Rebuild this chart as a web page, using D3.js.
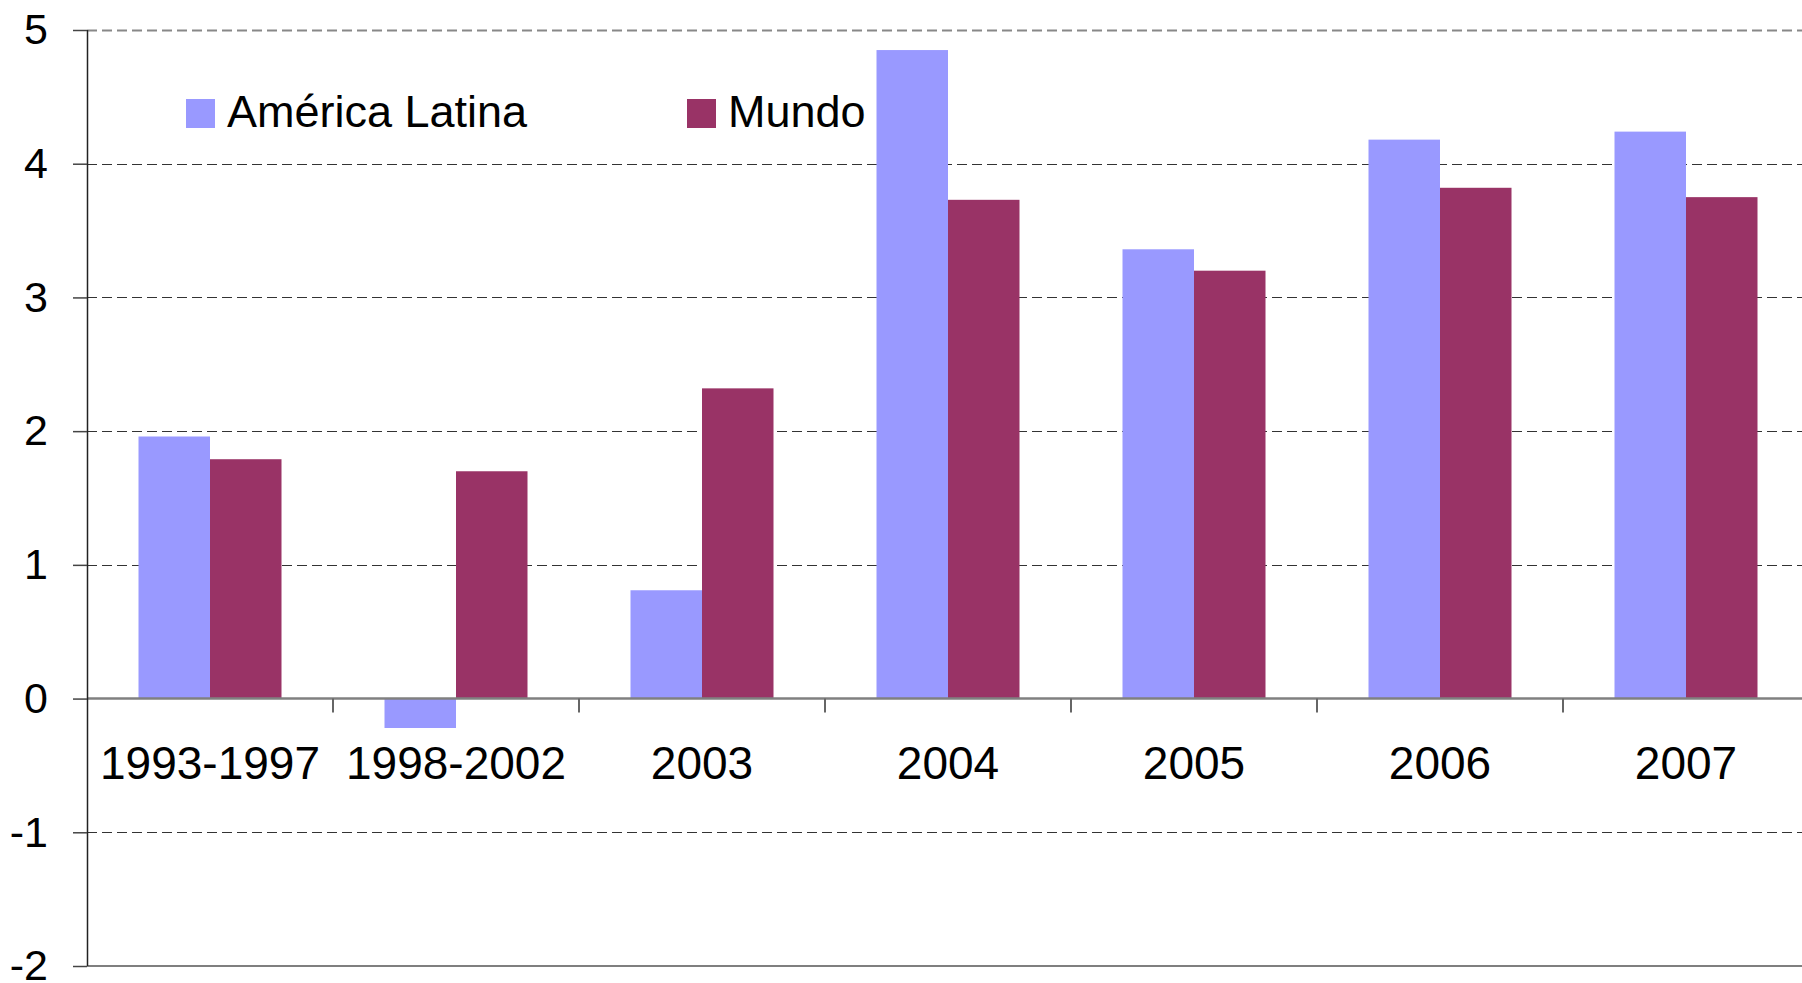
<!DOCTYPE html>
<meta charset="utf-8">
<html>
<head>
    <script src="https://d3js.org/d3.v7.min.js"></script>
    <style>
        body { margin: 0; background: #fff; }
        text { font-family: "Liberation Sans", Arial, sans-serif; }
    </style>
</head>
<body>
<script>
    // categorias e valores
    var categorias = ["1993-1997", "1998-2002", "2003", "2004", "2005", "2006", "2007"];
    var series = ["América Latina", "Mundo"];
    var americaLatina = [1.96, -0.22, 0.81, 4.85, 3.36, 4.18, 4.24];
    var mundo = [1.79, 1.70, 2.32, 3.73, 3.20, 3.82, 3.75];
    var yTicks = [-2, -1, 0, 1, 2, 3, 4, 5];

    var cores = ["#9999FF", "#993366"];

    var largura = 1802;
    var altura = 983;

    var svg = d3.select("body").append("svg")
        .attr("width", largura)
        .attr("height", altura);

    var x0 = 87;
    var band = 246;

    var x = d3.scaleBand()
        .domain(categorias)
        .range([x0, x0 + band * categorias.length])
        .padding(0);

    var xSub = d3.scaleBand()
        .domain(series)
        .range([51.5, 194.5])
        .padding(0);

    var y = d3.scaleLinear()
        .domain([-2, 5])
        .range([966, 30]);

    // linhas de grade
    svg.append("g")
        .selectAll("line")
        .data(yTicks.filter(function (d) { return d !== 0 && d !== -2; }))
        .enter().append("line")
        .attr("x1", x0)
        .attr("x2", largura)
        .attr("y1", function (d) { return Math.round(y(d)) + 0.5; })
        .attr("y2", function (d) { return Math.round(y(d)) + 0.5; })
        .attr("stroke", function (d) { return d === 5 ? "#888" : "#333"; })
        .attr("stroke-width", function (d) { return d === 5 ? 2 : 1.2; })
        .attr("stroke-dasharray", "10,5");

    // linha inferior
    svg.append("line")
        .attr("x1", x0).attr("x2", largura)
        .attr("y1", y(-2)).attr("y2", y(-2))
        .attr("stroke", "#555").attr("stroke-width", 1.5);

    // barras
    var dados = categorias.map(function (c, i) {
        return { cat: c, valores: [americaLatina[i], mundo[i]] };
    });

    var grupos = svg.append("g")
        .selectAll("g")
        .data(dados)
        .enter().append("g")
        .attr("transform", function (d) { return "translate(" + x(d.cat) + ",0)"; });

    grupos.selectAll("rect")
        .data(function (d) {
            return series.map(function (s, j) { return { serie: s, valor: d.valores[j], j: j }; });
        })
        .enter().append("rect")
        .attr("x", function (d) { return xSub(d.serie); })
        .attr("width", xSub.bandwidth())
        .attr("y", function (d) { return y(Math.max(0, d.valor)); })
        .attr("height", function (d) { return Math.abs(y(d.valor) - y(0)); })
        .attr("fill", function (d) { return cores[d.j]; });

    // eixo x (linha do zero)
    svg.append("line")
        .attr("x1", x0).attr("x2", largura)
        .attr("y1", y(0)).attr("y2", y(0))
        .attr("stroke", "#808080").attr("stroke-width", 2.5);

    // marcas entre categorias
    svg.append("g")
        .selectAll("line")
        .data(categorias)
        .enter().append("line")
        .attr("x1", function (d) { return x(d) + band; })
        .attr("x2", function (d) { return x(d) + band; })
        .attr("y1", y(0))
        .attr("y2", y(0) + 14)
        .attr("stroke", "#666").attr("stroke-width", 2);

    // rótulos das categorias
    svg.append("g")
        .selectAll("text")
        .data(categorias)
        .enter().append("text")
        .attr("x", function (d) { return x(d) + band / 2; })
        .attr("y", 779)
        .attr("text-anchor", "middle")
        .style("font-size", "46px")
        .text(function (d) { return d; });

    // eixo y
    var eixoY = d3.axisLeft(y)
        .tickValues(yTicks)
        .tickSize(14)
        .tickPadding(25)
        .tickFormat(function (d) { return String(d); });

    var gY = svg.append("g")
        .attr("transform", "translate(" + x0 + ",0)")
        .call(eixoY);

    gY.select(".domain").attr("stroke", "#222").attr("stroke-width", 1.5)
        .attr("d", "M0.5," + y(5) + "V" + y(-2));
    gY.selectAll(".tick line").attr("stroke", "#444").attr("stroke-width", 1.5);
    gY.selectAll(".tick text")
        .style("font-size", "43px")
        .style("font-family", "Liberation Sans, Arial, sans-serif")
        .attr("fill", "#000");

    // legenda
    var legenda = svg.append("g");
    var posLegenda = [186, 687];

    series.forEach(function (s, i) {
        legenda.append("rect")
            .attr("x", posLegenda[i])
            .attr("y", 99)
            .attr("width", 29)
            .attr("height", 29)
            .attr("fill", cores[i]);
        legenda.append("text")
            .attr("x", posLegenda[i] + 41)
            .attr("y", 127)
            .style("font-size", "45px")
            .text(s);
    });
</script>
</body>
</html>
